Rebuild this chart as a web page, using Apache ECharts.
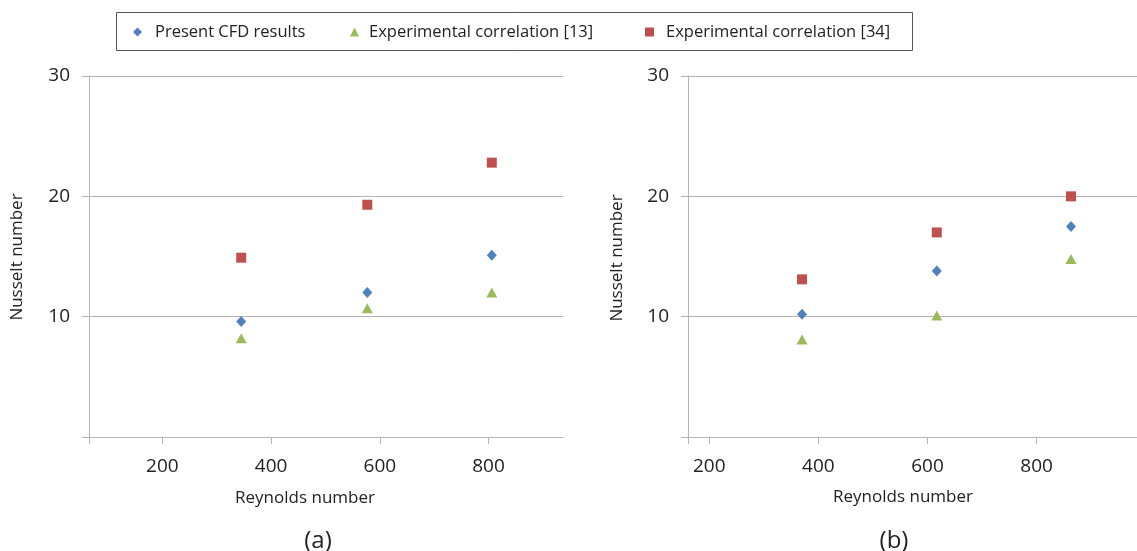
<!DOCTYPE html>
<html>
<head>
<meta charset="utf-8">
<style>
html,body{margin:0;padding:0;background:#fff;}
#chart{width:1137px;height:551px;}
</style>
<script src="https://cdn.jsdelivr.net/npm/echarts@6/dist/echarts.min.js"></script>
</head>
<body>
<div id="chart"></div>
<script>
// ---- data ----
const seriesNames = ['Present CFD results', 'Experimental correlation [13]', 'Experimental correlation [34]'];
// panel (a)
const reA = [345, 577, 806];
const cfdA = [9.6, 12.0, 15.1];
const exp13A = [8.2, 10.7, 12.0];
const exp34A = [14.9, 19.3, 22.8];
// panel (b)
const reB = [370, 617, 863];
const cfdB = [10.2, 13.8, 17.5];
const exp13B = [8.1, 10.1, 14.8];
const exp34B = [13.1, 17.0, 20.0];
// axes
const xTickLabels = [200, 400, 600, 800];
const xRangeA = [65, 937];
const xRangeB = [161, 984];
const yRange = [0, 30];
const yStep = 10;
const panelLabels = ['(a)', '(b)'];
const xTitle = 'Reynolds number';
const yTitle = 'Nusselt number';

// ---- styles ----
const colors = ['#4F81BD', '#9BBB59', '#C0504D'];
const symbols = ['diamond', 'triangle', 'rect'];
const symbolSizes = [[10, 11], [11, 10], [10, 10]];
const legendLefts = [133, 350, 645];
const legendTextPad = [8, 5, 7];
const lineGrey = '#B4B4B4';
const FONT = 'Open Sans';

function pairs(xs, ys) { return xs.map((x, i) => [x, ys[i]]); }

function xAxisFor(idx, range) {
  return {
    type: 'value', gridIndex: idx, min: range[0], max: range[1],
    axisLine: { show: true, lineStyle: { color: lineGrey, width: 1 } },
    axisTick: { show: true, length: 7, lineStyle: { color: lineGrey }, customValues: [range[0]].concat(xTickLabels) },
    axisLabel: { customValues: xTickLabels, margin: 20, fontFamily: FONT, fontSize: 19, color: '#222' },
    splitLine: { show: false }
  };
}
function yAxisFor(idx) {
  return {
    type: 'value', gridIndex: idx, min: yRange[0], max: yRange[1], interval: yStep,
    axisLine: { show: true, lineStyle: { color: lineGrey, width: 1 } },
    axisTick: { show: true, length: 7, lineStyle: { color: lineGrey } },
    axisLabel: { margin: 19, fontFamily: FONT, fontSize: 19, color: '#222',
      formatter: v => (v === 0 ? '' : String(v)) },
    splitLine: { show: true, lineStyle: { color: lineGrey, width: 1 } }
  };
}

const dataA = [cfdA, exp13A, exp34A];
const dataB = [cfdB, exp13B, exp34B];
const series = [];
[[reA, dataA, 0], [reB, dataB, 1]].forEach(([xs, sets, gi]) => {
  sets.forEach((ys, k) => {
    series.push({
      name: seriesNames[k], type: 'scatter', xAxisIndex: gi, yAxisIndex: gi,
      symbol: symbols[k], symbolSize: symbolSizes[k],
      itemStyle: { color: colors[k], opacity: 1 },
      data: pairs(xs, ys), z: 5, silent: true
    });
  });
});

const legends = seriesNames.map((n, k) => ({
  data: [n], left: legendLefts[k], top: 22, padding: 0,
  itemWidth: 9, itemHeight: 9, selectedMode: false,
  textStyle: { fontFamily: FONT, fontSize: 16.5, color: '#222', lineHeight: 20, padding: [0, 0, 0, legendTextPad[k]] }
}));

const chart = echarts.init(document.getElementById('chart'), null, { renderer: 'canvas' });
chart.setOption({
  animation: false,
  backgroundColor: '#fff',
  legend: legends,
  grid: [
    { left: 89, top: 76, width: 474, height: 361, containLabel: false },
    { left: 688, top: 76, width: 449, height: 361, containLabel: false }
  ],
  xAxis: [xAxisFor(0, xRangeA), xAxisFor(1, xRangeB)],
  yAxis: [yAxisFor(0), yAxisFor(1)],
  series: series,
  graphic: [
    { type: 'rect', shape: { x: 116.5, y: 12.5, width: 796, height: 38 }, style: { fill: 'none', stroke: '#555', lineWidth: 1 }, z: 1 },
    { type: 'text', x: 305, y: 498, style: { text: xTitle, fontFamily: FONT, fontSize: 17, fill: '#222', align: 'center', verticalAlign: 'middle' } },
    { type: 'text', x: 903, y: 497, style: { text: xTitle, fontFamily: FONT, fontSize: 17, fill: '#222', align: 'center', verticalAlign: 'middle' } },
    { type: 'text', x: 17, y: 257, rotation: Math.PI / 2, style: { text: yTitle, fontFamily: FONT, fontSize: 17, fill: '#222', align: 'center', verticalAlign: 'middle' } },
    { type: 'text', x: 617, y: 258, rotation: Math.PI / 2, style: { text: yTitle, fontFamily: FONT, fontSize: 17, fill: '#222', align: 'center', verticalAlign: 'middle' } },
    { type: 'text', x: 318, y: 541, style: { text: panelLabels[0], fontFamily: FONT, fontSize: 24, fill: '#222', align: 'center', verticalAlign: 'middle' } },
    { type: 'text', x: 894, y: 541, style: { text: panelLabels[1], fontFamily: FONT, fontSize: 24, fill: '#222', align: 'center', verticalAlign: 'middle' } }
  ]
});
</script>
</body>
</html>
